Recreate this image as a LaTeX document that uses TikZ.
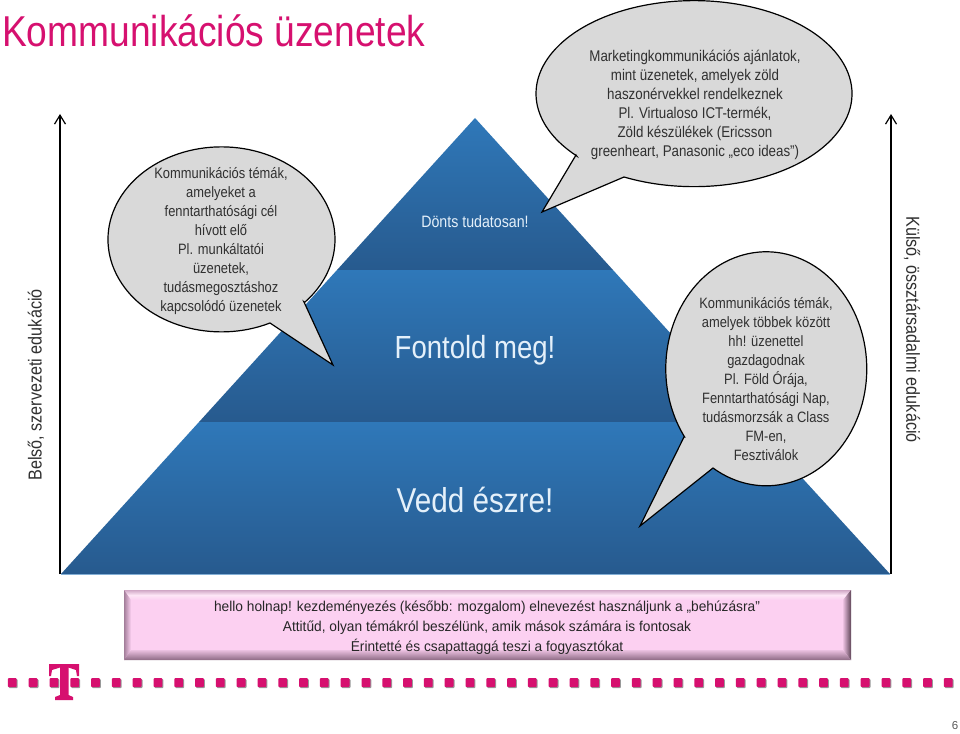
\documentclass[tikz,border=0pt]{standalone}
\usepackage{fontspec}
\setmainfont{Liberation Sans}
\newfontfamily\tele[FakeStretch=0.86]{Liberation Sans}
\newfontfamily\boxfont[FakeStretch=0.96]{Liberation Sans}
\usetikzlibrary{arrows.meta}
\definecolor{tmag}{HTML}{D6106F}
\definecolor{pyrtop}{HTML}{2F78B9}
\definecolor{pyrbot}{HTML}{275A8E}
\definecolor{bub}{HTML}{D9D9D9}
\definecolor{txt}{HTML}{303030}
\definecolor{ptxt}{HTML}{E4F0FA}
\definecolor{boxf}{HTML}{FCD0F1}
\definecolor{bevdark}{HTML}{8D6A84}
\definecolor{bevedge}{HTML}{5F4558}
\definecolor{bevlight}{HTML}{FDE6F6}
\tikzset{
  layer/.style={top color=pyrtop,bottom color=pyrbot,draw=none},
  bubble/.style={fill=bub,draw=black,line width=1.2pt,line join=miter},
  bubtext/.style={align=center,text=txt,font=\tele\fontsize{15}{18.9}\selectfont,inner sep=0pt},
  axisline/.style={draw=black,line width=1.3pt,-{Straight Barb[length=9pt,width=11pt,line width=1.2pt]}},
  sidetext/.style={text=txt,font=\tele\fontsize{18.8}{22}\selectfont,inner sep=0pt},
  pyrtext/.style={text=ptxt,inner sep=0pt},
  boxtext/.style={align=center,text=black!85,font=\boxfont\fontsize{14.3}{20}\selectfont,inner sep=0pt},
  dot/.style={fill=tmag,rounded corners=.8pt},
  dotshadow/.style={fill=black!40,rounded corners=.8pt},
}
\begin{document}
\begin{tikzpicture}[x=1pt,y=-1pt]
\useasboundingbox (0,0) rectangle (960,733);
\fill[white] (0,0) rectangle (960,733);
% title
\node[anchor=west,text=tmag,font=\tele\fontsize{43.2}{46}\selectfont,inner sep=0pt] (title) at (2,31) {Kommunikációs üzenetek};
% axes
\coordinate (la) at (60,574); \coordinate (lb) at (60,114);
\coordinate (ra) at (891,574); \coordinate (rb) at (891,114);
\draw[axisline] (la) -- (lb);
\draw[axisline] (ra) -- (rb);
\node[sidetext,rotate=90] (ltext) at (36,385) {Belső, szervezeti edukáció};
\node[sidetext,rotate=-90] (rtext) at (912,329.5) {Külső, össztársadalmi edukáció};
% pyramid
\shade[layer] (475,118) -- (613,270) -- (337,270) -- cycle;
\shade[layer] (337,270) -- (613,270) -- (751,422) -- (199,422) -- cycle;
\shade[layer] (199,422) -- (751,422) -- (890,574) -- (61,574) -- cycle;
\draw[pyrtop!60,line width=.6pt] (61,574.3) -- (890,574.3);
\node[pyrtext,font=\tele\fontsize{16.5}{20}\selectfont] (dont) at (475,221.5) {Dönts tudatosan!};
\node[pyrtext,font=\tele\fontsize{32}{36}\selectfont] (font) at (475,350) {Fontold meg!};
\node[pyrtext,font=\tele\fontsize{34.5}{40}\selectfont] (vedd) at (475,499.5) {Vedd észre!};
% bubbles
\draw[bubble] (304,302) -- (333,365) -- (270,323) arc[start angle=64.7,end angle=403,x radius=113.5,y radius=92.5] -- cycle;
\node[bubtext] (b1) at (221,241) {Kommunikációs témák,\\amelyeket a\\fenntarthatósági cél\\hívott elő\\Pl. munkáltatói\\üzenetek,\\tudásmegosztáshoz\\kapcsolódó üzenetek};
\draw[bubble] (576,155) -- (542,212) -- (624,177) arc[start angle=116.3,end angle=-222,x radius=158,y radius=93] -- cycle;
\node[bubtext,font=\tele\fontsize{15.5}{18.9}\selectfont] (b2) at (695,105) {Marketingkommunikációs ajánlatok,\\mint üzenetek, amelyek zöld\\haszonérvekkel rendelkeznek\\Pl. Virtualoso ICT-termék,\\Zöld készülékek (Ericsson\\greenheart, Panasonic „eco ideas”)};
\draw[bubble] (684,437) -- (640,526) -- (713,468) arc[start angle=122,end angle=-215.7,x radius=100.5,y radius=117] -- cycle;
\node[bubtext] (b3) at (766,379) {Kommunikációs témák,\\amelyek többek között\\hh! üzenettel\\gazdagodnak\\Pl. Föld Órája,\\Fenntarthatósági Nap,\\tudásmorzsák a Class\\FM-en,\\Fesztiválok};
% bottom box
\fill[boxf] (124,590) rectangle (851,660);
\shade[top color=boxf!60!bevdark,bottom color=boxf,middle color=bevlight] (124,590) -- (851,590) -- (843,600) -- (131,600) -- cycle;
\shade[left color=bevdark!80!boxf,right color=boxf] (124,590) -- (131,600) -- (131,650) -- (124,660) -- cycle;
\shade[left color=boxf!85!bevdark,right color=bevedge] (851,590) -- (851,660) -- (843,650) -- (843,600) -- cycle;
\shade[top color=boxf!85!bevdark,bottom color=bevdark] (124,660) -- (851,660) -- (843,650) -- (131,650) -- cycle;
\node[boxtext] (bt) at (487,628) {hello holnap! kezdeményezés (később: mozgalom) elnevezést használjunk a „behúzásra”\\Attitűd, olyan témákról beszélünk, amik mások számára is fontosak\\Érintetté és csapattaggá teszi a fogyasztókat};
% dots
\foreach \i in {0,...,45}{
  \pgfmathsetmacro{\xc}{12.5+20.8*\i}
  \fill[dotshadow] (\xc-3.6,679.2) rectangle +(8.8,8.8);
  \fill[dot] (\xc-4.6,678.2) rectangle +(8.8,8.8);
}
% logo
\fill[tmag] (49,664) -- (79,664) -- (79,676) -- (77,676) -- (76,670) -- (68.5,667.5) -- (68.5,695) -- (73,697) -- (73,700) -- (55,700) -- (55,697) -- (60,695) -- (60,667.5) -- (52,670) -- (51,676) -- (49,676) -- cycle;
% page number
\node[text=black!65,font=\fontsize{11.5}{12}\selectfont,inner sep=0pt] (pg) at (955,726) {6};
\end{tikzpicture}
\end{document}
